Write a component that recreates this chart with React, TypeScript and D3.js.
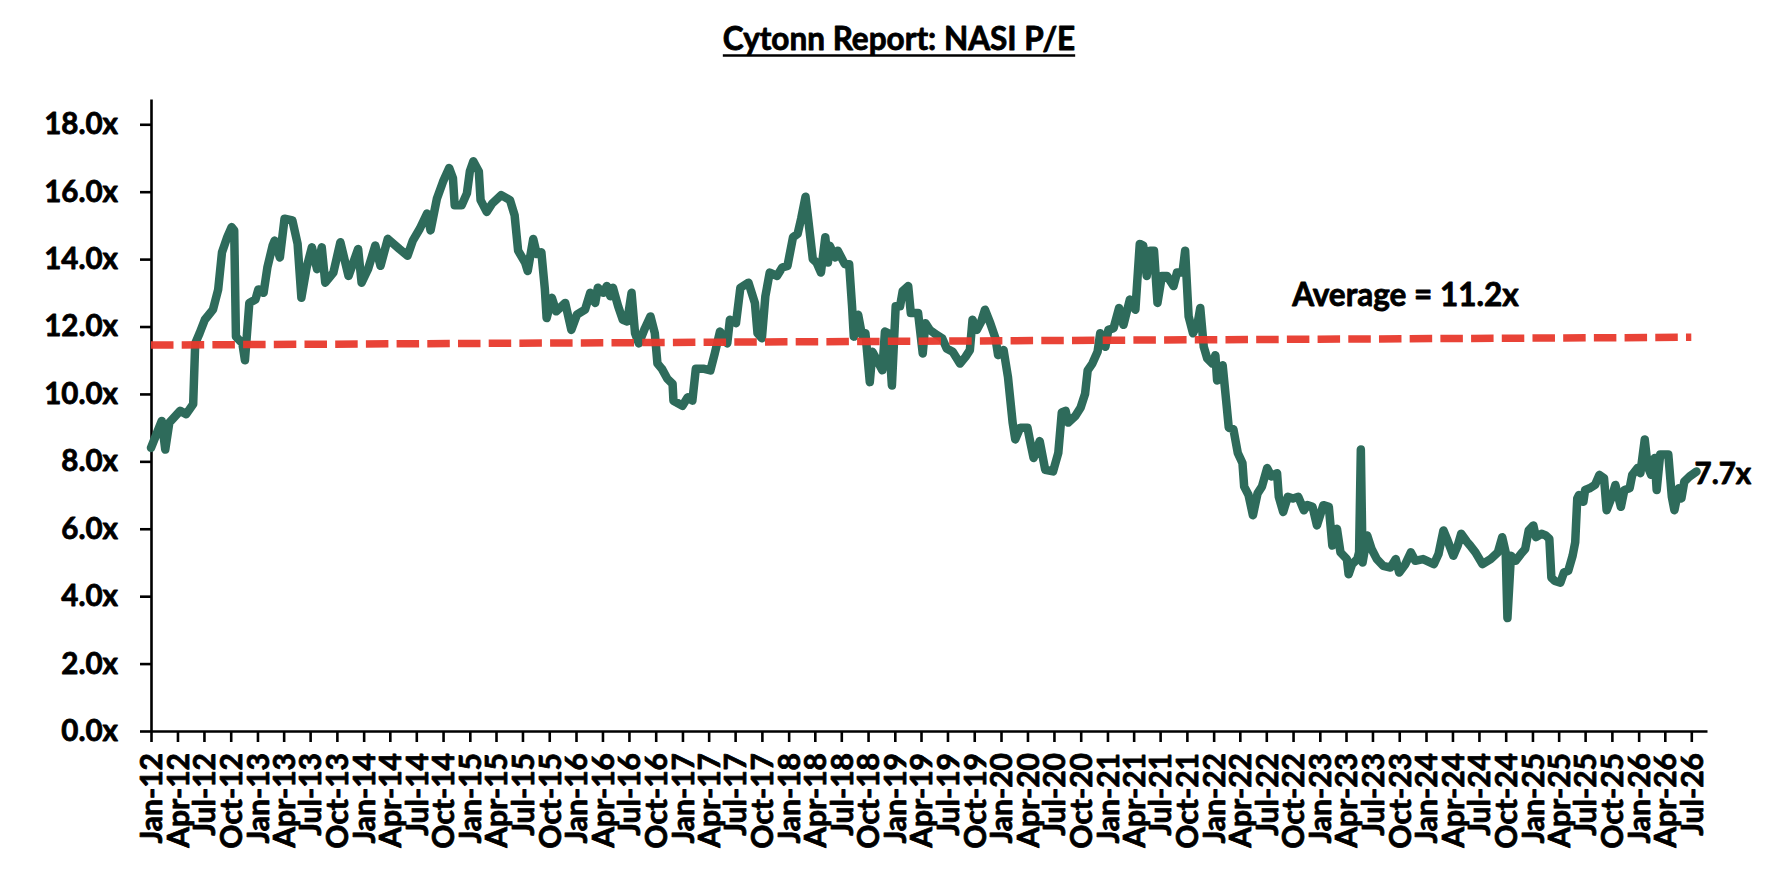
import React, { useRef, useEffect } from "react";
import * as d3 from "d3";

// chart text
const chartTitle = "Cytonn Report: NASI P/E";
const averageLabel = "Average = 11.2x";
const lastLabel = "7.7x";

// y ticks and quarterly x ticks
const yTicks = [0, 2, 4, 6, 8, 10, 12, 14, 16, 18];
const xTickFirst = "2012-01-01";
const xTickLast = "2026-07-01";
const xAxisEnd = "2026-08-24";

// red dashed average (trend) line, start and end
const averageLine: [string, number][] = [
  ["2012-01-01", 11.45],
  ["2026-07-01", 11.68],
];

// where the average label sits (date, value)
const averageLabelAt: [string, number] = ["2022-09-28", 12.6];

// NASI P/E series
const peSeries: [string, number][] = [
  ["2012-01-01", 8.4], ["2012-02-07", 9.2], ["2012-02-19", 8.35], ["2012-03-04", 9.15],
  ["2012-04-10", 9.5], ["2012-05-01", 9.4], ["2012-05-25", 9.7], ["2012-06-01", 11.5],
  ["2012-06-16", 11.8], ["2012-07-04", 12.2], ["2012-08-01", 12.5], ["2012-08-19", 13.1],
  ["2012-09-01", 14.2], ["2012-09-19", 14.65], ["2012-10-04", 14.95], ["2012-10-13", 14.85],
  ["2012-10-19", 11.7], ["2012-11-10", 11.5], ["2012-11-19", 11.0], ["2012-12-04", 12.7],
  ["2012-12-25", 12.8],
  ["2013-01-04", 13.1], ["2013-01-22", 13.0], ["2013-02-04", 13.75], ["2013-02-22", 14.4],
  ["2013-03-01", 14.55], ["2013-03-19", 14.05], ["2013-04-04", 15.2], ["2013-05-01", 15.15],
  ["2013-05-19", 14.45], ["2013-06-01", 12.85], ["2013-06-19", 13.75], ["2013-07-07", 14.35],
  ["2013-07-25", 13.7], ["2013-08-10", 14.35], ["2013-08-22", 13.3], ["2013-09-19", 13.6],
  ["2013-10-13", 14.5], ["2013-11-10", 13.5], ["2013-12-13", 14.3], ["2013-12-25", 13.3],
  ["2014-01-16", 13.7], ["2014-02-10", 14.4], ["2014-02-28", 13.8], ["2014-03-25", 14.6],
  ["2014-05-04", 14.3], ["2014-06-01", 14.1], ["2014-06-19", 14.55], ["2014-07-13", 14.9],
  ["2014-08-07", 15.35], ["2014-08-19", 14.85], ["2014-09-10", 15.8], ["2014-10-01", 16.3],
  ["2014-10-22", 16.7], ["2014-11-04", 16.4], ["2014-11-10", 15.6], ["2014-12-04", 15.6],
  ["2014-12-22", 15.95],
  ["2015-01-01", 16.6], ["2015-01-13", 16.9], ["2015-02-01", 16.6], ["2015-02-07", 15.75],
  ["2015-02-28", 15.4], ["2015-03-19", 15.65], ["2015-04-19", 15.9], ["2015-05-19", 15.75],
  ["2015-06-04", 15.3], ["2015-06-16", 14.25], ["2015-07-10", 13.9], ["2015-07-19", 13.65],
  ["2015-08-07", 14.6], ["2015-08-19", 14.15], ["2015-09-04", 14.2], ["2015-09-16", 13.1],
  ["2015-09-22", 12.25], ["2015-10-10", 12.85], ["2015-10-25", 12.45], ["2015-11-25", 12.7],
  ["2015-12-16", 11.9],
  ["2016-01-04", 12.35], ["2016-02-01", 12.5], ["2016-02-19", 13.0], ["2016-03-07", 12.7],
  ["2016-03-16", 13.15], ["2016-04-04", 13.0], ["2016-04-16", 13.2], ["2016-04-28", 12.9],
  ["2016-05-07", 13.15], ["2016-05-25", 12.6], ["2016-06-10", 12.2], ["2016-06-25", 12.15],
  ["2016-07-10", 13.0], ["2016-07-22", 11.8], ["2016-08-04", 11.5], ["2016-08-25", 11.95],
  ["2016-09-13", 12.3], ["2016-09-28", 11.8], ["2016-10-07", 10.9], ["2016-10-22", 10.75],
  ["2016-11-10", 10.45], ["2016-11-28", 10.3], ["2016-12-01", 9.8],
  ["2017-01-01", 9.65], ["2017-01-19", 9.9], ["2017-02-04", 9.8], ["2017-02-16", 10.75],
  ["2017-03-13", 10.75], ["2017-04-07", 10.7], ["2017-04-22", 11.2], ["2017-05-10", 11.85],
  ["2017-06-04", 11.5], ["2017-06-13", 12.2], ["2017-07-04", 12.1], ["2017-07-19", 13.15],
  ["2017-08-16", 13.3], ["2017-09-07", 12.7], ["2017-09-16", 11.8], ["2017-10-01", 11.65],
  ["2017-10-13", 12.9], ["2017-10-28", 13.6], ["2017-11-22", 13.5], ["2017-12-10", 13.75],
  ["2017-12-28", 13.8],
  ["2018-01-16", 14.65], ["2018-02-01", 14.75], ["2018-02-13", 15.2], ["2018-02-28", 15.85],
  ["2018-03-07", 15.35], ["2018-03-25", 14.0], ["2018-04-07", 13.9], ["2018-04-22", 13.6],
  ["2018-05-07", 14.65], ["2018-05-16", 13.9], ["2018-05-22", 14.4], ["2018-06-10", 14.05],
  ["2018-06-19", 14.25], ["2018-07-13", 13.85], ["2018-07-28", 13.85], ["2018-08-07", 12.6],
  ["2018-08-13", 11.7], ["2018-08-28", 12.35], ["2018-09-10", 11.75], ["2018-09-22", 11.8],
  ["2018-10-07", 10.35], ["2018-10-16", 11.25], ["2018-11-01", 11.0], ["2018-11-19", 10.7],
  ["2018-11-28", 11.85], ["2018-12-10", 11.8], ["2018-12-22", 10.25],
  ["2019-01-04", 12.6], ["2019-01-19", 12.6], ["2019-01-28", 13.05], ["2019-02-16", 13.2],
  ["2019-02-25", 12.4], ["2019-03-22", 12.4], ["2019-04-07", 11.2], ["2019-04-16", 12.1],
  ["2019-05-01", 11.9], ["2019-05-25", 11.75], ["2019-06-13", 11.65], ["2019-06-28", 11.35],
  ["2019-07-19", 11.25], ["2019-08-13", 10.9], ["2019-09-01", 11.1], ["2019-09-16", 11.3],
  ["2019-09-25", 12.2], ["2019-10-10", 11.9], ["2019-10-25", 12.15], ["2019-11-07", 12.5],
  ["2019-11-25", 12.1], ["2019-12-13", 11.65], ["2019-12-22", 11.15],
  ["2020-01-10", 11.3], ["2020-01-25", 10.5], ["2020-02-10", 9.15], ["2020-02-19", 8.65],
  ["2020-03-07", 9.0], ["2020-04-01", 9.0], ["2020-04-10", 8.6], ["2020-04-22", 8.1],
  ["2020-05-13", 8.6], ["2020-06-01", 7.75], ["2020-06-28", 7.7], ["2020-07-16", 8.25],
  ["2020-07-28", 9.45], ["2020-08-10", 9.5], ["2020-08-19", 9.15], ["2020-09-13", 9.35],
  ["2020-10-01", 9.6], ["2020-10-16", 10.0], ["2020-10-25", 10.7], ["2020-11-10", 10.9],
  ["2020-11-28", 11.25], ["2020-12-07", 11.8], ["2020-12-25", 11.4],
  ["2021-01-04", 11.9], ["2021-01-22", 11.95], ["2021-02-10", 12.55], ["2021-02-25", 12.05],
  ["2021-03-19", 12.8], ["2021-04-07", 12.5], ["2021-04-22", 14.45], ["2021-05-04", 14.4],
  ["2021-05-16", 13.5], ["2021-05-28", 14.25], ["2021-06-10", 14.25], ["2021-06-22", 12.7],
  ["2021-07-07", 13.5], ["2021-07-25", 13.5], ["2021-08-16", 13.2], ["2021-08-28", 13.6],
  ["2021-09-16", 13.6], ["2021-09-25", 14.25], ["2021-10-07", 12.3], ["2021-10-22", 11.8],
  ["2021-11-07", 12.1], ["2021-11-16", 12.55], ["2021-11-28", 11.4], ["2021-12-10", 11.05],
  ["2021-12-28", 10.9],
  ["2022-01-07", 11.15], ["2022-01-13", 10.4], ["2022-02-01", 10.85], ["2022-02-13", 9.8],
  ["2022-02-22", 9.0], ["2022-03-10", 8.95], ["2022-03-25", 8.25], ["2022-04-10", 7.95],
  ["2022-04-16", 7.25], ["2022-05-01", 7.0], ["2022-05-16", 6.4], ["2022-06-01", 7.05],
  ["2022-06-16", 7.25], ["2022-07-04", 7.8], ["2022-07-19", 7.55], ["2022-08-07", 7.65],
  ["2022-08-13", 6.95], ["2022-08-28", 6.5], ["2022-09-13", 6.95], ["2022-10-01", 6.9],
  ["2022-10-19", 6.95], ["2022-11-07", 6.55], ["2022-11-19", 6.7], ["2022-12-07", 6.65],
  ["2022-12-22", 6.1],
  ["2023-01-13", 6.7], ["2023-02-01", 6.65], ["2023-02-13", 5.5], ["2023-03-01", 6.0],
  ["2023-03-13", 5.3], ["2023-04-04", 5.1], ["2023-04-10", 4.65], ["2023-04-22", 4.95],
  ["2023-05-10", 5.1], ["2023-05-16", 5.3], ["2023-05-22", 8.35], ["2023-05-28", 5.0],
  ["2023-06-13", 5.8], ["2023-06-28", 5.4], ["2023-07-16", 5.1], ["2023-08-07", 4.9],
  ["2023-09-01", 4.85], ["2023-09-19", 5.1], ["2023-10-01", 4.7], ["2023-10-22", 4.95],
  ["2023-11-10", 5.3], ["2023-11-25", 5.05], ["2023-12-22", 5.1],
  ["2024-01-28", 4.95], ["2024-02-13", 5.25], ["2024-03-01", 5.95], ["2024-03-13", 5.7],
  ["2024-04-04", 5.2], ["2024-04-19", 5.5], ["2024-05-01", 5.85], ["2024-05-22", 5.6],
  ["2024-06-01", 5.5], ["2024-06-19", 5.3], ["2024-07-13", 4.95], ["2024-08-10", 5.1],
  ["2024-09-04", 5.3], ["2024-09-19", 5.75], ["2024-10-01", 5.3], ["2024-10-07", 3.35],
  ["2024-10-19", 5.2], ["2024-11-04", 5.05], ["2024-11-22", 5.25], ["2024-12-07", 5.4],
  ["2024-12-19", 5.95],
  ["2025-01-04", 6.1], ["2025-01-13", 5.75], ["2025-02-01", 5.85], ["2025-02-16", 5.8],
  ["2025-02-28", 5.7], ["2025-03-07", 4.55], ["2025-03-19", 4.45], ["2025-04-07", 4.4],
  ["2025-04-19", 4.7], ["2025-05-04", 4.75], ["2025-05-19", 5.2], ["2025-05-28", 5.6],
  ["2025-06-04", 6.9], ["2025-06-10", 7.0], ["2025-06-25", 6.8], ["2025-07-01", 7.15],
  ["2025-07-16", 7.2], ["2025-08-04", 7.3], ["2025-08-19", 7.6], ["2025-09-04", 7.5],
  ["2025-09-13", 6.55], ["2025-10-01", 6.95], ["2025-10-13", 7.3], ["2025-11-01", 6.65],
  ["2025-11-13", 7.15], ["2025-12-01", 7.2], ["2025-12-10", 7.6], ["2025-12-28", 7.8],
  ["2026-01-07", 7.65], ["2026-01-22", 8.65], ["2026-02-01", 7.85], ["2026-02-13", 7.6],
  ["2026-02-25", 8.1], ["2026-03-04", 7.15], ["2026-03-16", 8.2], ["2026-03-28", 8.2],
  ["2026-04-13", 8.2], ["2026-04-25", 6.95], ["2026-05-04", 6.55], ["2026-05-19", 7.2],
  ["2026-05-28", 6.9], ["2026-06-07", 7.4], ["2026-06-25", 7.55], ["2026-07-19", 7.7],
];

const FONT = "Lato, 'Open Sans', sans-serif";

// bold text, thickened a little with a thin outline (reference font is heavier)
const boldText = (sel: d3.Selection<any, any, any, any>) =>
  sel
    .attr("font-family", FONT)
    .attr("font-weight", 700)
    .attr("fill", "#000")
    .attr("stroke", "#000")
    .attr("stroke-width", 0.8)
    .attr("stroke-linejoin", "round");

const NasiChart: React.FC = () => {
  const svgRef = useRef<SVGSVGElement>(null);
  const width = 1772;
  const height = 886;
  const margin = { top: 99, right: 65, bottom: 155, left: 151 };

  useEffect(() => {
    document.body.style.margin = "0";
    const svg = d3.select(svgRef.current);
    svg.selectAll("*").remove();

    const parse = d3.timeParse("%Y-%m-%d");
    const series = peSeries.map(([d, v]) => [parse(d)!, v] as [Date, number]);

    // escalas
    const x = d3
      .scaleTime()
      .domain([parse(xTickFirst)!, parse(xAxisEnd)!])
      .range([margin.left, width - margin.right]);
    const y = d3
      .scaleLinear()
      .domain([0, 18.75])
      .range([height - margin.bottom, margin.top]);

    const quarters = d3.timeMonth.every(3)!.range(
      parse(xTickFirst)!,
      d3.timeDay.offset(parse(xTickLast)!, 1)
    );

    // ejes
    const xAxisG = svg
      .append("g")
      .attr("transform", `translate(0,${height - margin.bottom})`)
      .call(
        d3
          .axisBottom(x)
          .tickValues(quarters)
          .tickFormat((d) => d3.timeFormat("%b-%y")(d as Date))
          .tickSize(11)
          .tickSizeOuter(0)
      );
    xAxisG
      .selectAll("text")
      .attr("transform", "rotate(-90)")
      .attr("text-anchor", "end")
      .attr("x", -22)
      .attr("y", 0)
      .attr("dy", "0.36em");

    const yAxisG = svg
      .append("g")
      .attr("transform", `translate(${margin.left},0)`)
      .call(
        d3
          .axisLeft(y)
          .tickValues(yTicks)
          .tickFormat((d) => `${(d as number).toFixed(1)}x`)
          .tickSize(11)
          .tickPadding(22)
          .tickSizeOuter(0)
      );

    [xAxisG, yAxisG].forEach((g) => {
      g.attr("font-size", 30);
      g.selectAll("path, line").attr("stroke", "#000").attr("stroke-width", 2.6);
      boldText(g.selectAll("text"));
    });
    yAxisG.attr("font-size", 29.5);

    // linea P/E
    const line = d3
      .line<[Date, number]>()
      .x((d) => x(d[0]))
      .y((d) => y(d[1]));
    svg
      .append("path")
      .datum(series)
      .attr("d", line)
      .attr("fill", "none")
      .attr("stroke", "#2E6B5B")
      .attr("stroke-width", 8.5)
      .attr("stroke-linejoin", "round")
      .attr("stroke-linecap", "round");

    // promedio
    const avg = averageLine.map(([d, v]) => [parse(d)!, v] as [Date, number]);
    svg
      .append("path")
      .datum(avg)
      .attr("d", line)
      .attr("fill", "none")
      .attr("stroke", "#E8392C")
      .attr("stroke-opacity", 0.95)
      .attr("stroke-width", 7.5)
      .attr("stroke-dasharray", "22.5 8.2");

    boldText(
      svg
        .append("text")
        .attr("x", x(parse(averageLabelAt[0])!))
        .attr("y", y(averageLabelAt[1]))
        .attr("font-size", 31.5)
        .text(averageLabel)
    );

    // ultimo valor
    const last = series[series.length - 1];
    boldText(
      svg
        .append("text")
        .attr("x", x(last[0]) - 2)
        .attr("y", y(last[1]) + 13)
        .attr("font-size", 29.5)
        .text(lastLabel)
    );

    // titulo
    const titleText = boldText(
      svg
        .append("text")
        .attr("x", 899)
        .attr("y", 50)
        .attr("text-anchor", "middle")
        .attr("font-size", 31.5)
        .text(chartTitle)
    );
    const bb = (titleText.node() as SVGTextElement).getBBox();
    svg
      .append("line")
      .attr("x1", bb.x)
      .attr("x2", bb.x + bb.width)
      .attr("y1", 55.5)
      .attr("y2", 55.5)
      .attr("stroke", "#000")
      .attr("stroke-width", 2.5);
  }, []);

  return (
    <svg
      ref={svgRef}
      width={width}
      height={height}
      viewBox={`0 0 ${width} ${height}`}
      style={{ display: "block", background: "#fff" }}
    />
  );
};

export default function App() {
  return <NasiChart />;
}
